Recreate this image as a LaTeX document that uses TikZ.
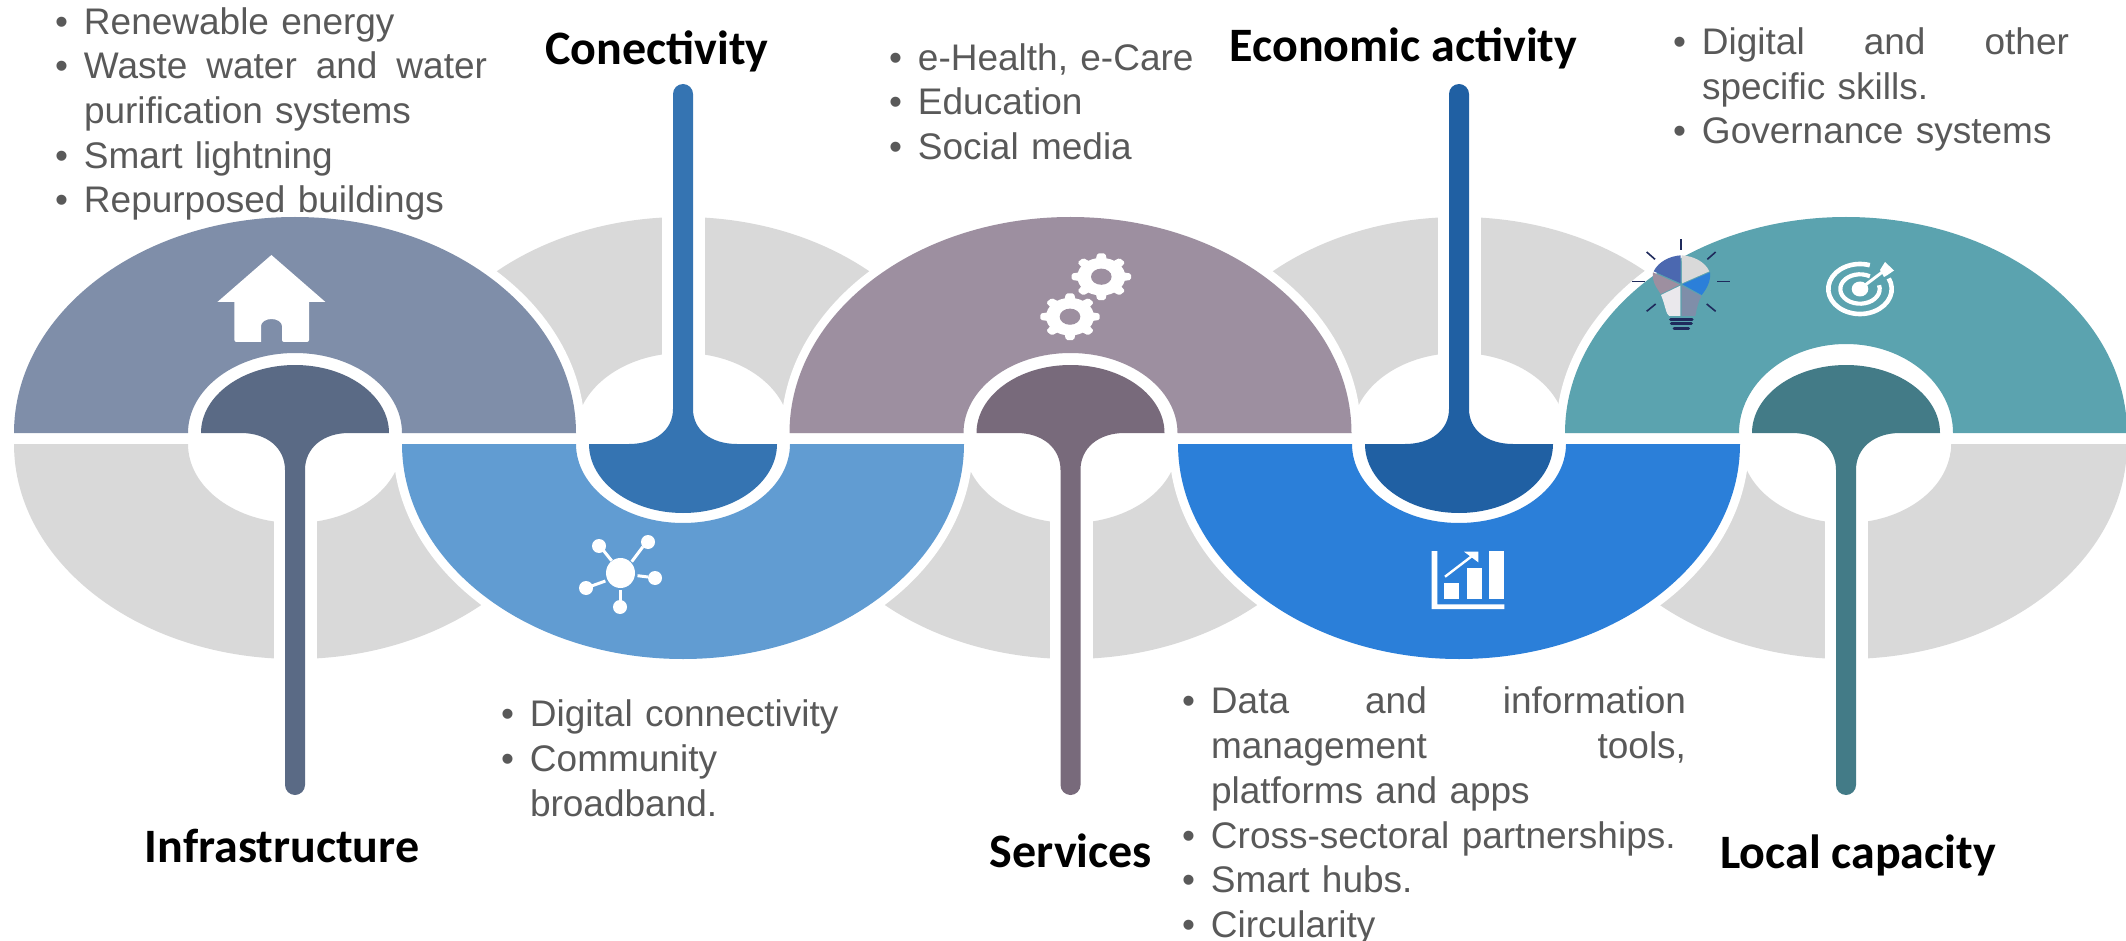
\documentclass[tikz,border=0pt]{standalone}
\usepackage{fontspec}
\setmainfont{Liberation Sans}
\newfontfamily\headfont{Carlito}
\definecolor{grayband}{HTML}{D9D9D9}
\definecolor{txt}{HTML}{595959}
\definecolor{slateL}{HTML}{7F8EA9}
\definecolor{slateD}{HTML}{5A6A85}
\definecolor{skyL}{HTML}{619CD2}
\definecolor{skyD}{HTML}{3574B2}
\definecolor{mauveL}{HTML}{9D8FA0}
\definecolor{mauveD}{HTML}{786A7B}
\definecolor{azureL}{HTML}{2B7FD9}
\definecolor{azureD}{HTML}{2060A3}
\definecolor{tealL}{HTML}{5BA3AF}
\definecolor{tealD}{HTML}{437B87}
\definecolor{navyray}{HTML}{1F2A5C}
\definecolor{bulbblue}{HTML}{4B68B0}
\definecolor{bulbpale}{HTML}{EAE8EC}
\newcommand\blt[1]{\par\hangindent=29pt\hangafter=1\noindent\strut\makebox[29pt][l]{•}#1\par}
\newcommand\bodyfont{\fontsize{37}{44.7}\selectfont\color{txt}\tolerance=10000\hbadness=10000\hfuzz=20pt}
\newcommand\headingfont{\headfont\bfseries\fontsize{48}{56}\selectfont\color{black}}
% grey half rings
\newcommand\grayBot[2]{%
  \fill[grayband] (#1-281,-444) arc[start angle=180,end angle=360,x radius=281,y radius=215]
    -- (#1+#2,-444) arc[start angle=0,end angle=-180,x radius=#2,y radius=79] -- cycle;
  \fill[white] (#1-21.5,-440) rectangle (#1+21.5,-670);}
\newcommand\grayTop[1]{%
  \fill[grayband] (#1-281,-433) arc[start angle=180,end angle=0,x radius=281,y radius=216]
    -- (#1+107,-433) arc[start angle=0,end angle=180,x radius=107,y radius=80] -- cycle;
  \fill[white] (#1-21.5,-437) rectangle (#1+21.5,-205);}
\newcommand\haloTop[1]{\fill[white] (#1-290,-433) arc[start angle=180,end angle=0,x radius=290,y radius=225] -- cycle;}
\newcommand\haloBot[1]{\fill[white] (#1-290,-444) arc[start angle=180,end angle=360,x radius=290,y radius=224] -- cycle;}
% coloured unit pointing down (half ring on top, stem below): centre, light, dark, ring height
\newcommand\unitTop[4]{%
  \fill[#2] (#1-281,-433) arc[start angle=180,end angle=0,x radius=281,y radius=216]
    -- (#1+107,-433) arc[start angle=0,end angle=180,x radius=107,y radius=#4] -- cycle;
  \fill[#3] (#1-94,-433) arc[start angle=180,end angle=0,x radius=94,y radius=68]
    -- (#1+54,-433) .. controls (#1+28,-433) and (#1+10,-448) .. (#1+10,-470)
    -- (#1+10,-785) arc[start angle=0,end angle=-180,radius=10]
    -- (#1-10,-470) .. controls (#1-10,-448) and (#1-28,-433) .. (#1-54,-433) -- cycle;}
\newcommand\unitBot[4]{%
  \fill[#2] (#1-281,-444) arc[start angle=180,end angle=360,x radius=281,y radius=215]
    -- (#1+107,-444) arc[start angle=0,end angle=-180,x radius=107,y radius=#4] -- cycle;
  \fill[#3] (#1-94,-444) arc[start angle=180,end angle=360,x radius=94,y radius=69]
    -- (#1+54,-444) .. controls (#1+28,-444) and (#1+10,-430) .. (#1+10,-409)
    -- (#1+10,-94) arc[start angle=0,end angle=180,radius=10]
    -- (#1-10,-409) .. controls (#1-10,-430) and (#1-28,-444) .. (#1-54,-444) -- cycle;}
\newcommand\gearicon[3]{%
  \begin{scope}[shift={(#1,-#2)},yscale=.785]
    \fill[white] (0,0) circle[radius=24];
    \foreach \a in {0,45,...,315}{\fill[white,rotate=\a,rounded corners=1.5pt] (-5.5,22) -- (-4,29.7) -- (4,29.7) -- (5.5,22) -- cycle;}
    \fill[#3] (0,0) circle[radius=10.3];
  \end{scope}}
\tikzset{
  bodytext/.style={anchor=north west,inner sep=0pt,outer sep=0pt,font=\bodyfont},
  headtext/.style={anchor=base,inner sep=0pt,outer sep=0pt,font=\headingfont},
  netline/.style={white,line width=3pt},
  ray/.style={navyray,line width=1.6pt},
  baseline bar/.style={navyray,line width=3pt,line cap=round}
}
\begin{document}
\begin{tikzpicture}[x=1pt,y=1pt]
\useasboundingbox (0,0) rectangle (2126,-941);
% grey bands
\grayBot{295}{107}
\grayTop{683}
\grayBot{1071}{107}
\grayTop{1459}
\grayBot{1846}{105}
% keep the bottom-right hole shallow
\fill[white] (1846-105,-444) arc[start angle=180,end angle=360,x radius=105,y radius=69] -- cycle;
\fill[white] (1824.5,-440) rectangle (1867.5,-670);
% white halos
\haloTop{295}\haloBot{683}\haloTop{1071}\haloBot{1459}\haloTop{1846}
% coloured units
\unitTop{295}{slateL}{slateD}{80}
\unitBot{683}{skyL}{skyD}{79}
\unitTop{1070.5}{mauveL}{mauveD}{80}
\unitBot{1459}{azureL}{azureD}{79}
\unitTop{1846}{tealL}{tealD}{89}
% house icon
\fill[white] (271.4,-255) -- (325.4,-302) -- (309,-302) -- (309,-339) [rounded corners=2pt] -- (309,-342) -- (282,-342) [sharp corners] -- (282,-326) arc[start angle=0,end angle=180,x radius=10.5,y radius=7] -- (261,-342) [rounded corners=2pt] -- (234.4,-342) -- (234.4,-302) [sharp corners] -- (234.4,-302) -- (217.4,-302) -- cycle;
% network icon
\fill[white] (620.5,-573) ellipse[x radius=14.5,y radius=15];
\foreach \px/\py in {599/546,648/542,655/578,620/607,586/588}{\fill[white] (\px,-\py) circle[radius=7];}
\draw[netline] (603.6,-550.7) -- (611.6,-560.7);
\draw[netline] (642.9,-546.7) -- (631.7,-561.7);
\draw[netline] (637.5,-575.7) -- (648,-577);
\draw[netline] (620,-590) -- (620,-601.7);
\draw[netline] (605.4,-581) -- (591.5,-586);
% gears
\gearicon{1101.3}{276.7}{mauveL}
\gearicon{1070}{316.7}{mauveL}
% chart icon
\fill[white] (1431.7,-551) -- (1437.3,-551) -- (1437.3,-604.3) -- (1504.3,-604.3) -- (1504.3,-609) -- (1431.7,-609) -- cycle;
\fill[white] (1444,-582.7) rectangle (1459.3,-599.3);
\fill[white] (1466.7,-568.3) rectangle (1482,-599.3);
\fill[white] (1489,-551) rectangle (1504.3,-599.3);
\draw[white,line width=2.4pt] (1445,-576.7) -- (1474,-554.5);
\fill[white] (1464,-551.7) -- (1478.3,-551.7) -- (1478.3,-562.3) -- cycle;
% target icon
\draw[white,line width=4.6pt] (1860,-289) ++(72:31.7 and 25) arc[start angle=72,end angle=385,x radius=31.7,y radius=25];
\draw[white,line width=4.2pt] (1860,-289) ++(60:19.7 and 14.7) arc[start angle=60,end angle=375,x radius=19.7,y radius=14.7];
\fill[white] (1860,-289) ellipse[x radius=8.3,y radius=7.5];
\draw[white,line width=3pt] (1860,-289) -- (1885,-270);
\fill[white] (1880,-270) -- (1885,-262) -- (1894,-270.5) -- (1887.5,-275) -- (1884,-277) -- cycle;
% bulb icon
\begin{scope}[shift={(1620,-230)},x=.3333pt,y=-.3333pt]
  \fill[bulbblue] (182,76) .. controls (150,78) and (115,95) .. (101,124) -- (182,160) -- cycle;
  \fill[grayband] (185,76) .. controls (220,78) and (255,95) .. (268,124) -- (186,160) -- cycle;
  \fill[azureL] (270,127) .. controls (273,150) and (262,175) .. (245,195) -- (187,163) -- cycle;
  \fill[slateL] (244,198) .. controls (235,215) and (230,235) .. (226,258) -- (185,258) -- (185,167) -- cycle;
  \fill[bulbpale] (181,258) -- (148,258) .. controls (138,255) and (136,225) .. (123,195) -- (181,167) -- cycle;
  \fill[mauveL] (122,192) .. controls (108,170) and (95,155) .. (99,127) -- (180,164) -- cycle;
  \draw[ray] (183,28) -- (183,60);
  \draw[ray] (80,66) -- (105,88);
  \draw[ray] (287,66) -- (262,88);
  \draw[ray] (37,155) -- (75,155);
  \draw[ray] (292,155) -- (330,155);
  \draw[ray] (80,244) -- (107,222);
  \draw[ray] (287,244) -- (260,222);
  \draw[baseline bar] (152,268) -- (216,268);
  \draw[baseline bar] (154,282) -- (214,282);
  \draw[baseline bar] (162,295) -- (206,295);
\end{scope}
% bullet texts
\node[bodytext,text width=432pt] (listinfra) at (55,10.6) {%
  \blt{Renewable energy}
  \blt{Waste\hfill water\hfill and\hfill water\newline purification systems}
  \blt{Smart lightning}
  \blt{Repurposed buildings}};
\node[bodytext,text width=400pt] (listconn) at (501,-682) {%
  \blt{Digital connectivity}
  \blt{Community\newline broadband.}};
\node[bodytext,text width=360pt] (listserv) at (889,-25.5) {%
  \blt{e-Health, e-Care}
  \blt{Education}
  \blt{Social media}};
\node[bodytext,text width=504pt] (listecon) at (1182,-669.2) {%
  \blt{Data\hfill and\hfill information\newline management\hfill tools,\newline platforms and apps}
  \blt{Cross-sectoral partnerships.}
  \blt{Smart hubs.}
  \blt{Circularity}};
\node[bodytext,text width=396pt] (listlocal) at (1673,-9.9) {%
  \blt{Digital\hfill and\hfill other\newline specific skills.}
  \blt{Governance systems}};
% headings
\node[headtext] (hinfra) at (282,-862) {Infrastructure};
\node[headtext] (hconn) at (657,-65) {Conectivity};
\node[headtext] (hserv) at (1071,-867) {Services};
\node[headtext] (hecon) at (1403.5,-62) {Economic activity};
\node[headtext] (hlocal) at (1858,-868) {Local capacity};
\end{tikzpicture}
\end{document}
